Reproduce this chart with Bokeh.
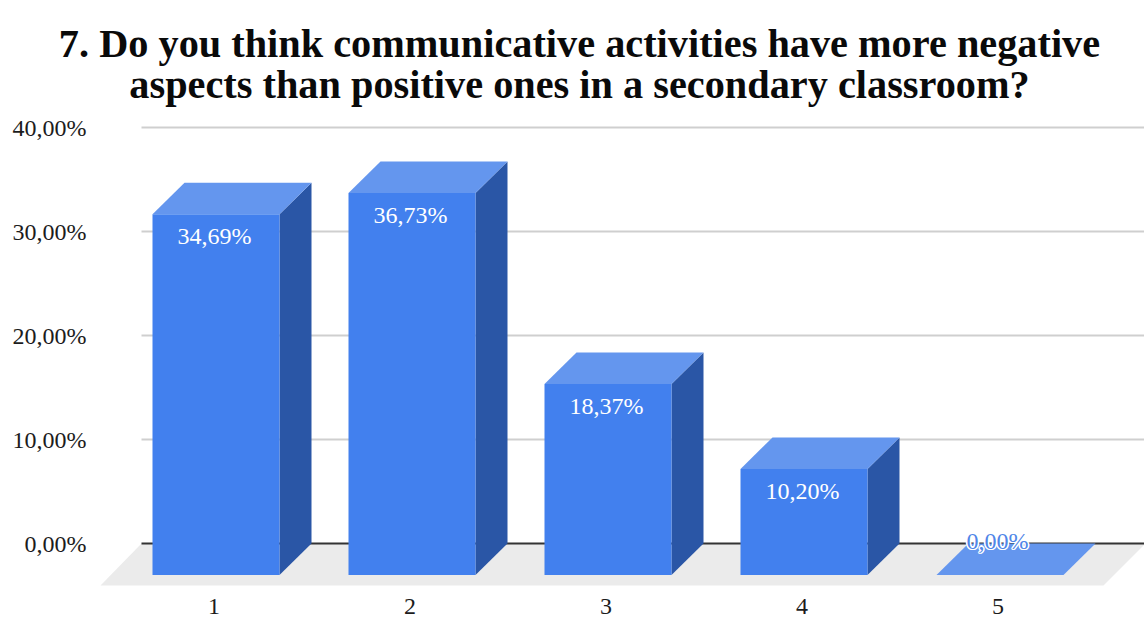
from bokeh.core.properties import value
from bokeh.embed import file_html
from bokeh.models import ColumnDataSource, FixedTicker, Label, Range1d
from bokeh.plotting import figure
from bokeh.resources import INLINE

# Survey results
categories = [1, 2, 3, 4, 5]
percentages = [34.69, 36.73, 18.37, 10.20, 0.00]
labels = ["34,69%", "36,73%", "18,37%", "10,20%", "0,00%"]
y_ticks = [0, 10, 20, 30, 40]
y_tick_labels = ["0,00%", "10,00%", "20,00%", "30,00%", "40,00%"]
title_lines = ["7. Do you think communicative activities have more negative",
               "aspects than positive ones in a secondary classroom?"]

# Pixel scale of the plot and the oblique projection of the bars
PX_X, PX_Y = 196.0, 10.4
FRAME_LEFT, FRAME_TOP, FRAME_BOTTOM = 50, 0, 619
ORIGIN_X, ORIGIN_Y = 215.5, 543.0
DEPTH_X, DEPTH_Y = 32 / PX_X, 31.5 / PX_Y
BAR_W = 127 / PX_X

x0 = 1 + (FRAME_LEFT - ORIGIN_X) / PX_X
x1 = 1 + (1144 - ORIGIN_X) / PX_X
y0 = (ORIGIN_Y - FRAME_BOTTOM) / PX_Y
y1 = (ORIGIN_Y - FRAME_TOP) / PX_Y

p = figure(width=1144, height=619, output_backend="svg", toolbar_location=None,
           x_range=Range1d(x0, x1), y_range=Range1d(y0, y1),
           x_axis_location=None, title=None,
           min_border_left=FRAME_LEFT, min_border_right=0,
           min_border_top=FRAME_TOP, min_border_bottom=0,
           outline_line_color=None, background_fill_color="white")
p.grid.visible = False

TEXT = "#1c1c1c"
SERIF = "Liberation Serif"
FONT_SIZE = "24px"

# The value axis carries only its tick labels, which reach into the plot area
axis = p.yaxis[0]
axis.axis_line_color = None
axis.major_tick_line_color = None
axis.minor_tick_line_color = None
axis.major_label_text_font = SERIF
axis.major_label_text_font_size = FONT_SIZE
axis.major_label_text_color = TEXT
axis.ticker = FixedTicker(ticks=y_ticks)
axis.major_label_overrides = dict(zip(y_ticks, y_tick_labels))
axis.major_label_standoff = -42

# Floor of the 3D plot, running off the right edge
n = len(categories)
WALL_X = 1 + (141 - ORIGIN_X) / PX_X
FLOOR_DX, FLOOR_DY = 41 / PX_X, 42 / PX_Y
floor_x = [WALL_X - FLOOR_DX, WALL_X, x1, x1, x1 - FLOOR_DX]
floor_y = [-FLOOR_DY, 0, 0, -1 / PX_Y, -FLOOR_DY]
p.patch(floor_x, floor_y, fill_color="#ebebeb", line_color=None)

# Back-wall gridlines and the zero line
grid = [t for t in y_ticks if t != 0]
p.segment([WALL_X] * len(grid), grid, [x1] * len(grid), grid,
          line_color="#cfcfcf", line_width=2)
p.segment([WALL_X], [0], [x1], [0], line_color="#333333", line_width=2)

# Bars: a front face with a top and a side face offset by the depth
left = [c - BAR_W / 2 for c in categories]
right = [c + BAR_W / 2 for c in categories]
base = [-DEPTH_Y] * n
front_top = [v - DEPTH_Y for v in percentages]

side_xs = [[r, r + DEPTH_X, r + DEPTH_X, r] for r in right]
side_ys = [[b, 0, v, t] for b, v, t in zip(base, percentages, front_top)]
top_xs = [[l, l + DEPTH_X, r + DEPTH_X, r] for l, r in zip(left, right)]
top_ys = [[t, v, v, t] for v, t in zip(percentages, front_top)]

p.patches(side_xs, side_ys, fill_color="#2a56a6", line_color=None)
p.quad(left=left, right=right, bottom=base, top=front_top,
       fill_color="#4280ee", line_color=None)
p.patches(top_xs, top_ys, fill_color="#6496ee", line_color=None)

# Category labels below the floor, kept clear of the page's bottom edge
p.text(x=[c - 2 / PX_X for c in categories], y=[-63 / PX_Y] * n,
       text=[str(c) for c in categories],
       text_color=TEXT, text_font=value(SERIF), text_font_size=FONT_SIZE,
       text_align="center", text_baseline="middle")

# Value labels sit just inside each bar; an empty bar gets its label above the flat top
raised = [v > 0 for v in percentages]
inside = ColumnDataSource(dict(
    x=[c - 1.5 / PX_X for c, r in zip(categories, raised) if r],
    y=[t - 22 / PX_Y for t, r in zip(front_top, raised) if r],
    text=[s for s, r in zip(labels, raised) if r]))
p.text("x", "y", text="text", source=inside, text_color="white",
       text_font=value(SERIF), text_font_size=FONT_SIZE,
       text_align="center", text_baseline="middle")
flat = ColumnDataSource(dict(
    x=[c - 2.5 / PX_X for c, r in zip(categories, raised) if not r],
    y=[v + 3 / PX_Y for v, r in zip(percentages, raised) if not r],
    text=[s for s, r in zip(labels, raised) if not r]))
# White copies nudged around the label form a halo behind the blue text
for dx, dy in [(-1.5, 0), (1.5, 0), (0, -1.5), (0, 1.5), (-1, -1), (1, -1), (-1, 1), (1, 1)]:
    p.text("x", "y", text="text", source=flat, text_color="white", x_offset=dx, y_offset=dy,
           text_font=value(SERIF), text_font_size=FONT_SIZE,
           text_align="center", text_baseline="middle")
p.text("x", "y", text="text", source=flat, text_color="#4f86e8",
       text_font=value(SERIF), text_font_size=FONT_SIZE,
       text_align="center", text_baseline="middle")

# Two-line heading centred above the plot, one label per line
TITLE_CENTER = 1 + (579 - ORIGIN_X) / PX_X
for line, baseline_px in zip(title_lines, (43, 84)):
    p.add_layout(Label(x=TITLE_CENTER, y=(ORIGIN_Y - baseline_px) / PX_Y, text=line,
                       text_font=SERIF, text_font_style="bold", text_font_size="40.3px",
                       text_color="#0a0a0a", text_align="center",
                       text_baseline="alphabetic"))

open("out.html", "w").write(file_html(p, INLINE))
